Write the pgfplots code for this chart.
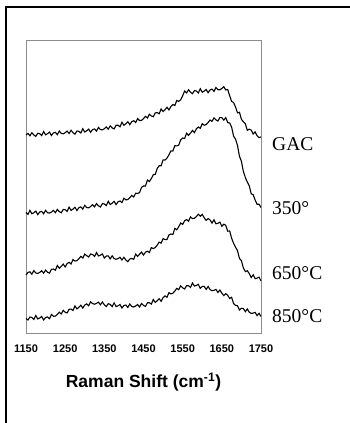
\documentclass[border=0pt]{standalone}
\usepackage{pgfplots}
\pgfplotsset{compat=1.18}
\usepackage{pgfplotstable}
\usepackage{fontspec}
\setmainfont{Liberation Sans}
\newfontfamily\serifl{Liberation Serif}

\pgfplotstableread{
x y
1150 198.0
1155 199.6
1160 197.2
1165 200.3
1170 198.0
1175 196.6
1180 199.7
1185 199.3
1190 197.4
1195 201.5
1200 198.2
1205 199.3
1210 200.9
1215 197.5
1220 200.1
1225 200.7
1230 198.3
1235 202.0
1240 199.6
1245 199.2
1250 200.3
1255 201.9
1260 199.5
1265 202.7
1270 200.3
1275 198.9
1280 202.0
1285 201.7
1290 200.0
1295 204.2
1300 201.0
1305 202.2
1310 203.9
1315 200.7
1320 203.4
1325 204.1
1330 201.9
1335 205.6
1340 203.4
1345 203.1
1350 204.3
1355 206.1
1360 203.8
1365 207.1
1370 205.1
1375 204.1
1380 207.7
1385 207.7
1390 206.2
1395 210.7
1400 207.7
1405 209.3
1410 211.3
1415 208.3
1420 211.3
1425 212.3
1430 210.4
1435 214.4
1440 212.4
1445 212.6
1450 214.4
1455 216.7
1460 215.0
1465 218.8
1470 217.0
1475 216.3
1480 220.1
1485 220.4
1490 219.2
1495 224.0
1500 221.4
1505 223.3
1510 225.7
1515 223.1
1520 226.5
1525 228.5
1530 227.5
1535 232.6
1540 231.6
1545 233.2
1550 237.3
1555 241.9
1560 240.1
1565 243.2
1570 240.8
1575 239.3
1580 242.4
1585 242.0
1590 240.1
1595 244.2
1600 240.8
1605 241.9
1610 243.5
1615 240.3
1620 243.1
1625 243.9
1630 241.7
1635 245.5
1640 243.3
1645 243.2
1650 244.5
1655 246.3
1660 243.0
1665 243.5
1670 237.2
1675 231.6
1680 230.5
1685 226.0
1690 220.1
1695 220.7
1700 213.7
1705 211.2
1710 209.3
1715 202.7
1720 203.8
1725 202.9
1730 199.0
1735 201.1
1740 197.2
1745 195.4
1750 196.0
}\gac

\pgfplotstableread{
x y
1150 120.5
1155 118.6
1160 122.6
1165 119.2
1170 120.3
1175 121.9
1180 118.4
1185 121.0
1190 121.6
1195 119.2
1200 122.7
1205 120.3
1210 119.9
1215 120.9
1220 122.6
1225 120.3
1230 123.6
1235 121.4
1240 120.2
1245 123.5
1250 123.3
1255 121.6
1260 125.9
1265 122.6
1270 123.9
1275 125.7
1280 122.5
1285 125.3
1290 126.1
1295 123.9
1300 127.7
1305 125.4
1310 125.2
1315 126.5
1320 128.3
1325 126.1
1330 129.4
1335 127.2
1340 126.0
1345 129.3
1350 129.1
1355 127.4
1360 131.7
1365 128.5
1370 129.8
1375 131.6
1380 128.4
1385 131.2
1390 132.0
1395 130.4
1400 134.7
1405 133.1
1410 133.4
1415 135.3
1420 137.6
1425 136.0
1430 139.8
1435 139.5
1440 140.5
1445 145.6
1450 147.0
1455 147.0
1460 153.0
1465 151.5
1470 154.4
1475 158.3
1480 158.7
1485 164.5
1490 167.3
1495 167.2
1500 173.1
1505 173.0
1510 174.9
1515 178.2
1520 182.1
1525 182.0
1530 187.3
1535 187.1
1540 187.9
1545 193.2
1550 195.0
1555 194.5
1560 199.8
1565 197.6
1570 199.9
1575 202.6
1580 200.4
1585 204.2
1590 206.0
1595 204.7
1600 209.3
1605 207.8
1610 208.4
1615 210.5
1620 213.0
1625 211.6
1630 215.2
1635 213.1
1640 212.0
1645 215.4
1650 215.3
1655 212.9
1660 215.4
1665 210.5
1670 210.0
1675 205.9
1680 196.9
1685 193.8
1690 187.6
1695 176.7
1700 171.8
1705 161.4
1710 155.5
1715 151.0
1720 147.1
1725 139.2
1730 138.3
1735 133.0
1740 128.7
1745 128.8
1750 125.5
}\tsf

\pgfplotstableread{
x y
1150 58.0
1155 60.6
1160 61.2
1165 58.8
1170 62.4
1175 60.0
1180 59.6
1185 60.6
1190 62.2
1195 59.8
1200 62.9
1205 60.7
1210 59.9
1215 63.7
1220 64.0
1225 62.8
1230 67.5
1235 64.8
1240 66.6
1245 68.9
1250 66.1
1255 69.4
1260 70.7
1265 69.0
1270 73.5
1275 71.9
1280 72.3
1285 74.2
1290 76.6
1295 75.0
1300 78.9
1305 77.3
1310 76.0
1315 79.0
1320 78.5
1325 76.5
1330 80.5
1335 77.0
1340 77.9
1345 79.0
1350 75.0
1355 77.0
1360 77.1
1365 74.1
1370 77.2
1375 74.4
1380 73.7
1385 74.4
1390 75.7
1395 73.0
1400 75.7
1405 73.0
1410 71.3
1415 74.0
1420 74.5
1425 73.7
1430 78.9
1435 76.6
1440 78.8
1445 80.9
1450 77.9
1455 80.8
1460 81.8
1465 80.4
1470 85.4
1475 84.4
1480 85.4
1485 87.9
1490 90.9
1495 89.9
1500 94.4
1505 93.4
1510 93.5
1515 98.0
1520 99.0
1525 98.5
1530 104.6
1535 103.2
1540 106.3
1545 110.0
1550 108.6
1555 112.2
1560 113.5
1565 111.8
1570 116.1
1575 114.4
1580 114.7
1585 116.5
1590 118.8
1595 116.8
1600 118.7
1605 115.2
1610 112.6
1615 114.5
1620 113.0
1625 109.9
1630 113.2
1635 109.2
1640 109.7
1645 110.8
1650 106.8
1655 108.8
1660 107.7
1665 101.8
1670 102.0
1675 94.8
1680 89.6
1685 85.8
1690 82.4
1695 74.6
1700 72.3
1705 65.1
1710 61.4
1715 62.2
1720 59.5
1725 55.4
1730 58.2
1735 54.3
1740 54.9
1745 55.9
1750 52.0
}\ssf

\pgfplotstableread{
x y
1150 14.5
1155 13.0
1160 16.0
1165 15.5
1170 13.5
1175 17.5
1180 14.0
1185 15.0
1190 16.5
1195 13.0
1200 15.5
1205 16.1
1210 14.3
1215 18.5
1220 16.7
1225 16.9
1230 18.6
1235 20.8
1240 19.0
1245 22.7
1250 20.8
1255 20.0
1260 23.7
1265 23.9
1270 22.5
1275 27.0
1280 24.1
1285 25.7
1290 27.8
1295 24.9
1300 28.0
1305 29.1
1310 27.2
1315 31.3
1320 29.4
1325 28.8
1330 29.6
1335 30.9
1340 28.2
1345 31.0
1350 28.2
1355 26.5
1360 29.3
1365 28.6
1370 26.4
1375 30.2
1380 26.4
1385 27.2
1390 28.5
1395 25.0
1400 27.5
1405 28.0
1410 25.5
1415 29.0
1420 26.5
1425 26.0
1430 27.0
1435 28.5
1440 26.0
1445 29.5
1450 27.6
1455 26.6
1460 30.2
1465 30.3
1470 28.9
1475 33.5
1480 30.6
1485 32.2
1490 34.3
1495 31.7
1500 35.4
1505 37.1
1510 35.7
1515 40.4
1520 39.1
1525 39.8
1530 41.9
1535 44.6
1540 43.3
1545 47.2
1550 45.1
1555 44.0
1560 47.3
1565 47.2
1570 45.6
1575 50.0
1580 46.9
1585 47.6
1590 48.6
1595 44.6
1600 46.6
1605 46.6
1610 43.6
1615 46.5
1620 43.4
1625 42.3
1630 42.7
1635 43.6
1640 40.5
1645 43.0
1650 39.9
1655 37.5
1660 39.4
1665 37.7
1670 34.5
1675 35.7
1680 29.4
1685 27.7
1690 27.2
1695 23.0
1700 24.7
1705 24.5
1710 21.3
1715 24.0
1720 20.8
1725 19.6
1730 19.9
1735 20.6
1740 17.4
1745 19.7
1750 16.5
}\esf

\begin{document}
\begin{tikzpicture}[x=1pt,y=1pt]
\useasboundingbox (0,0) rectangle (350,423);
\draw[line width=2pt,black] (6,-5) -- (6,416) -- (360,416);
\begin{axis}[
  at={(26pt,90pt)}, anchor=south west,
  scale only axis, width=235pt, height=293pt,
  xmin=1150, xmax=1750, ymin=0, ymax=293,
  axis line style={draw=black!45, line width=0.9pt},
  ytick=\empty,
  xtick={1150,1250,1350,1450,1550,1650,1750},
  xticklabels={1150,1250,1350,1450,1550,1650,1750},
  major tick length=0pt,
  xticklabel style={font=\fontsize{11}{13}\selectfont\bfseries, anchor=center, yshift=-16pt},
  xlabel={Raman Shift (cm\textsuperscript{-1})},
  xlabel style={font=\fontsize{17.5}{20}\selectfont\bfseries, anchor=center, at={(axis description cs:0.5,0)}, yshift=-49pt},
  clip=false,
]
\addplot[black, line width=1.1pt, mark=none] table[x=x,y=y] {\gac};
\addplot[black, line width=1.1pt, mark=none] table[x=x,y=y] {\tsf};
\addplot[black, line width=1.1pt, mark=none] table[x=x,y=y] {\ssf};
\addplot[black, line width=1.1pt, mark=none] table[x=x,y=y] {\esf};
\node[anchor=west, inner sep=0pt, font=\serifl\fontsize{19.5}{22}\selectfont, xshift=11pt] at (axis cs:1750,189) {GAC};
\node[anchor=west, inner sep=0pt, font=\serifl\fontsize{19.5}{22}\selectfont, xshift=11pt] at (axis cs:1750,125) {350°};
\node[anchor=west, inner sep=0pt, font=\serifl\fontsize{19.5}{22}\selectfont, xshift=11pt] at (axis cs:1750,60) {650°C};
\node[anchor=west, inner sep=0pt, font=\serifl\fontsize{19.5}{22}\selectfont, xshift=11pt] at (axis cs:1750,17) {850°C};
\end{axis}
\end{tikzpicture}
\end{document}
